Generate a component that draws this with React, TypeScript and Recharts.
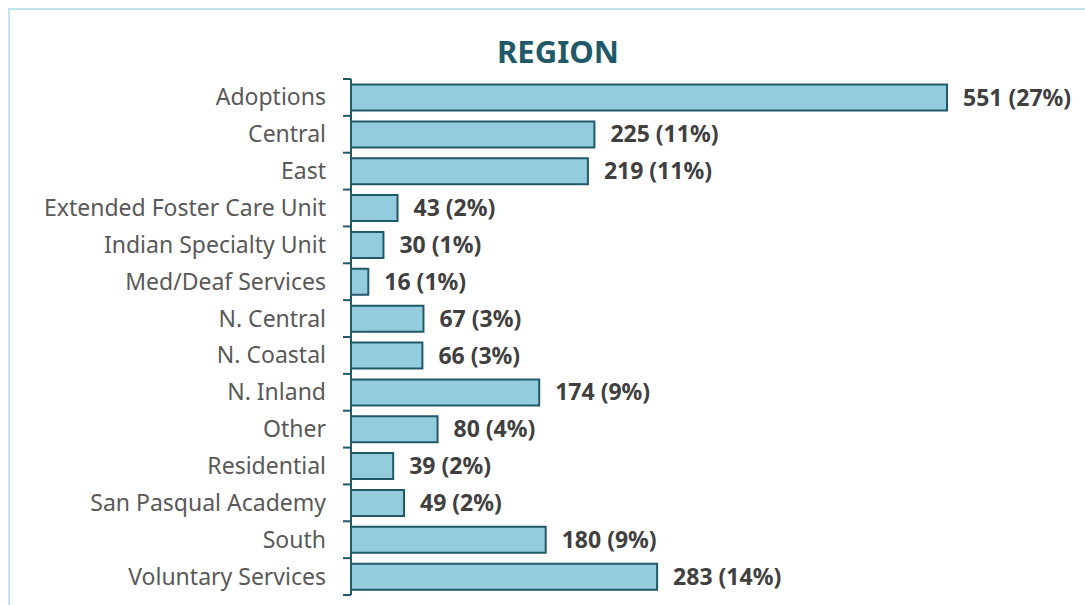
import React from 'react'
import { BarChart, Bar, XAxis, YAxis, LabelList } from 'recharts'

const regions = [
  'Adoptions',
  'Central',
  'East',
  'Extended Foster Care Unit',
  'Indian Specialty Unit',
  'Med/Deaf Services',
  'N. Central',
  'N. Coastal',
  'N. Inland',
  'Other',
  'Residential',
  'San Pasqual Academy',
  'South',
  'Voluntary Services',
]
const counts = [551, 225, 219, 43, 30, 16, 67, 66, 174, 80, 39, 49, 180, 283]
const percents = [27, 11, 11, 2, 1, 1, 3, 3, 9, 4, 2, 2, 9, 14]

const data = regions.map((name, i) => ({ name, count: counts[i], pct: percents[i] }))

const W = 1085
const H = 605
const TOP = 79
const BOTTOM = 10
const AXIS_X = 351
const BAND = (H - TOP - BOTTOM) / regions.length
const FONT = '"Noto Sans", sans-serif'

const CategoryTick = (props: any) => {
  const { x, y, payload, index } = props
  const lx = AXIS_X
  return (
    <g>
      {index === 0 && (
        <line x1={lx - 8} x2={lx} y1={y - BAND / 2} y2={y - BAND / 2} stroke="#215968" strokeWidth={2} />
      )}
      <line x1={lx - 8} x2={lx} y1={y + BAND / 2} y2={y + BAND / 2} stroke="#215968" strokeWidth={2} />
      <text x={x} y={y} dy={8} textAnchor="end" fill="#595959" fontSize={23} fontFamily={FONT}>
        {payload.value}
      </text>
    </g>
  )
}

const ValueLabel = (props: any) => {
  const { x, y, width, height, index } = props
  return (
    <text
      x={x + width + 16}
      y={y + height / 2}
      dy={8}
      fill="#404040"
      fontSize={23}
      fontWeight={700}
      fontFamily={FONT}
    >
      {`${counts[index]} (${percents[index]}%)`}
    </text>
  )
}

export default function App() {
  return (
    <div style={{ position: 'absolute', left: 0, top: 0, width: W, height: H, background: '#fff' }}>
      <div
        style={{
          position: 'absolute',
          left: 8,
          top: 8,
          width: W,
          height: H,
          borderTop: '2px solid #BFE4ED',
          borderLeft: '2px solid #BFE4ED',
        }}
      />
      <div
        style={{
          position: 'absolute',
          left: 0,
          top: 29,
          width: 1116,
          textAlign: 'center',
          fontFamily: FONT,
          fontWeight: 700,
          fontSize: 31,
          color: '#215968',
          lineHeight: '44px',
        }}
      >
        REGION
      </div>
      <div style={{ position: 'absolute', left: 0, top: 0 }}>
        <BarChart
          width={W}
          height={H}
          data={data}
          layout="vertical"
          margin={{ top: TOP, right: 85, bottom: BOTTOM, left: 0 }}
          barCategoryGap="15%"
        >
          <XAxis type="number" domain={[0, 600]} hide />
          <YAxis
            type="category"
            dataKey="name"
            width={AXIS_X}
            axisLine={{ stroke: '#215968', strokeWidth: 2 }}
            tickLine={false}
            tickMargin={25}
            tickSize={0}
            interval={0}
            tick={<CategoryTick />}
          />
          <Bar dataKey="count" fill="#93CDDD" stroke="#215968" strokeWidth={2} isAnimationActive={false}>
            <LabelList dataKey="count" content={<ValueLabel />} />
          </Bar>
        </BarChart>
      </div>
    </div>
  )
}
